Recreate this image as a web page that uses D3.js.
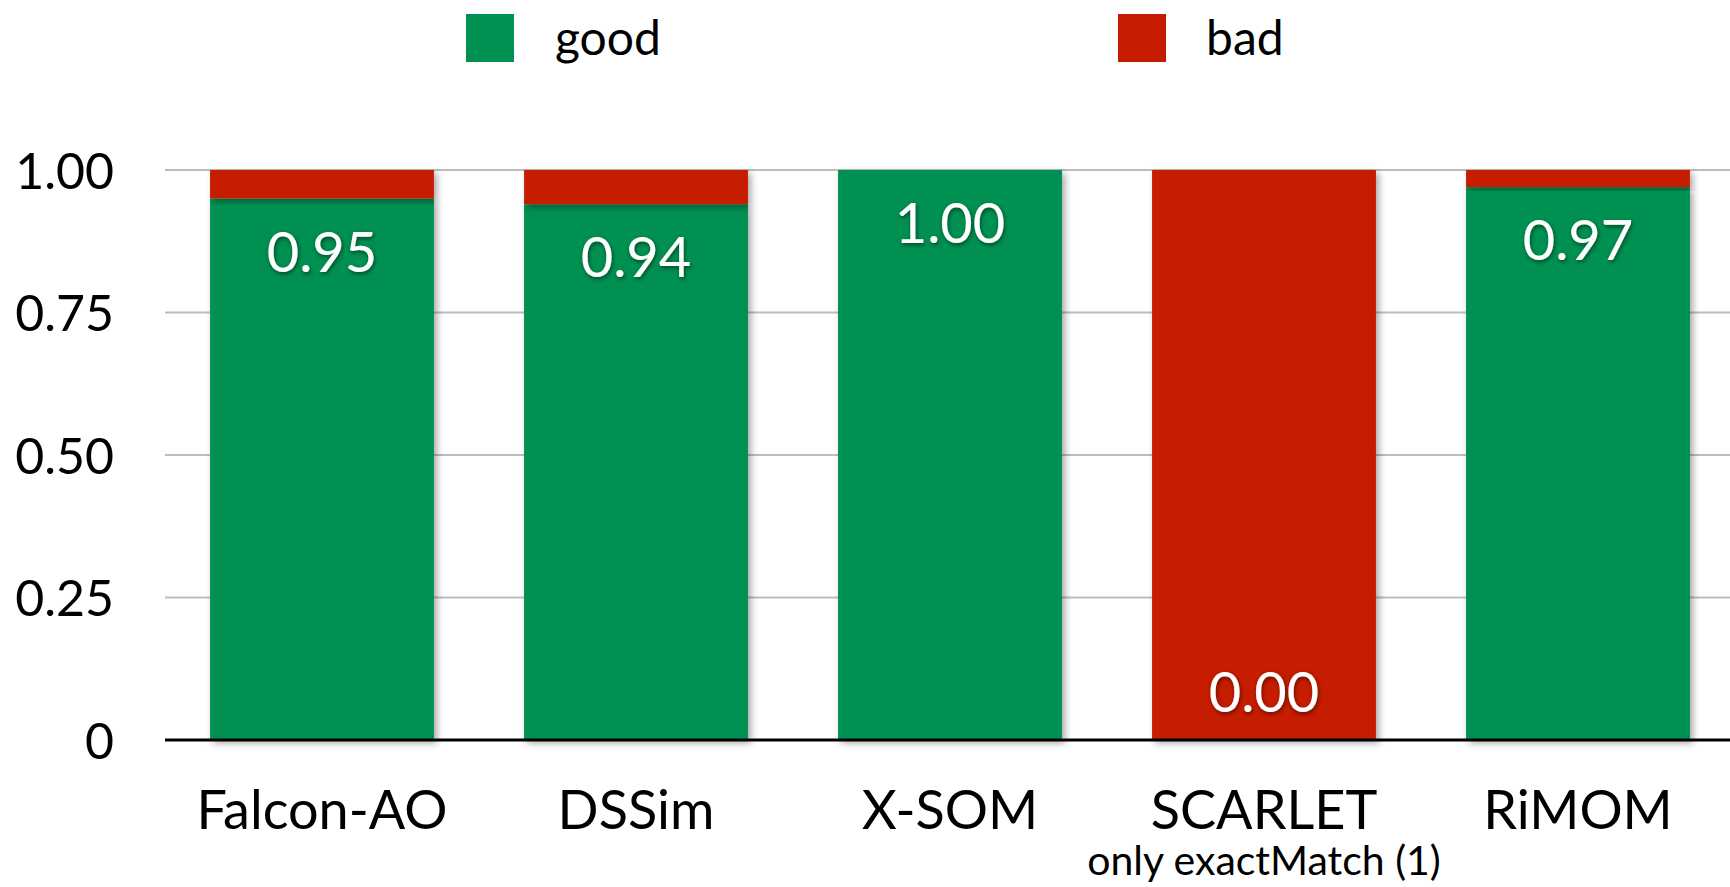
<!DOCTYPE html>
<html><head><meta charset="utf-8">
<script src="https://cdn.jsdelivr.net/npm/d3@7"></script>
<style>
html,body{margin:0;padding:0;background:#fff;}
svg{display:block;font-family:Lato,"Open Sans",sans-serif;}
</style></head>
<body>
<svg id="chart" width="1730" height="887"></svg>
<script>
const categories = ["Falcon-AO","DSSim","X-SOM","SCARLET","RiMOM"];
const subLabels = ["","","","only exactMatch (1)",""];
const good = [0.95,0.94,1.00,0.00,0.97];
const bad = [0.05,0.06,0.00,1.00,0.03];
const yTicks = [0,0.25,0.5,0.75,1.0];
const yTickLabels = ["0","0.25","0.50","0.75","1.00"];
const seriesNames = ["good","bad"];
const colors = ["#009051","#C61D00"];

const svg = d3.select("#chart");
const defs = svg.append("defs");
const f = defs.append("filter").attr("id","sh").attr("x","-10%").attr("y","-10%").attr("width","130%").attr("height","130%");
f.append("feDropShadow").attr("dx",3).attr("dy",3).attr("stdDeviation",3.5).attr("flood-color","#000").attr("flood-opacity",0.35);
const ft = defs.append("filter").attr("id","tsh").attr("x","-20%").attr("y","-20%").attr("width","140%").attr("height","140%");
ft.append("feDropShadow").attr("dx",1).attr("dy",2).attr("stdDeviation",2).attr("flood-color","#000").attr("flood-opacity",0.5);

const x = d3.scaleBand().domain(categories).range([165,1735]).paddingInner(0.287).paddingOuter(0.1435);
const y = d3.scaleLinear().domain([0,1]).range([740,170]);

// gridlines
svg.append("g").selectAll("line").data(yTicks.filter(d=>d>0)).join("line")
  .attr("x1",165).attr("x2",1730).attr("y1",d=>y(d)).attr("y2",d=>y(d))
  .attr("stroke","#bdbdbd").attr("stroke-width",2);

// y axis labels
const yAxis = d3.axisLeft(y).tickValues(yTicks).tickFormat((d,i)=>yTickLabels[i]).tickSize(0).tickPadding(0);
const ya = svg.append("g").attr("transform","translate(114,0)").call(yAxis);
ya.select(".domain").remove();
ya.selectAll("text").attr("font-size",50).attr("fill","#000").attr("font-family","Lato,sans-serif").attr("dy","0.36em");

// stacked bars
const stackData = categories.map((c,i)=>({cat:c,good:good[i],bad:bad[i]}));
const stacked = d3.stack().keys(seriesNames)(stackData);
const gBars = svg.append("g");
stacked.forEach((s,si)=>{
  gBars.append("g").selectAll("rect").data(s).join("rect")
    .attr("x",d=>x(d.data.cat)).attr("width",x.bandwidth())
    .attr("y",d=>y(d[1])).attr("height",d=>Math.max(0,y(d[0])-y(d[1])))
    .attr("fill",colors[si]).attr("filter","url(#sh)");
});

// baseline
svg.append("line").attr("x1",165).attr("x2",1730).attr("y1",y(0)).attr("y2",y(0)).attr("stroke","#000").attr("stroke-width",3);

// value labels
svg.append("g").selectAll("text").data(stackData).join("text")
  .attr("x",d=>x(d.cat)+x.bandwidth()/2)
  .attr("y",d=>d.good>0.1 ? y(d.good)+73 : y(0)-28)
  .attr("text-anchor","middle").attr("fill","#fff").attr("font-size",56)
  .attr("filter","url(#tsh)")
  .text(d=>d.good.toFixed(2));

// x labels
const xAxis = d3.axisBottom(x).tickSize(0).tickPadding(0);
const xa = svg.append("g").attr("transform","translate(0,829)").call(xAxis);
xa.select(".domain").remove();
xa.selectAll("text").attr("font-size",54).attr("fill","#000").attr("font-family","Lato,sans-serif").attr("dy",0);
svg.append("g").selectAll("text").data(categories.map((c,i)=>({c,s:subLabels[i]})).filter(d=>d.s)).join("text")
  .attr("x",d=>x(d.c)+x.bandwidth()/2).attr("y",875).attr("text-anchor","middle")
  .attr("font-size",41).attr("fill","#000").text(d=>d.s);

// legend
const legX = [466,1118];
const lg = svg.append("g").selectAll("g").data(seriesNames).join("g")
  .attr("transform",(d,i)=>`translate(${legX[i]},14)`);
lg.append("rect").attr("width",48).attr("height",48).attr("fill",(d,i)=>colors[i]);
lg.append("text").attr("x",(d,i)=>i===0?89:88).attr("y",41).attr("font-size",48).attr("fill","#000").text(d=>d);
</script>
</body></html>
